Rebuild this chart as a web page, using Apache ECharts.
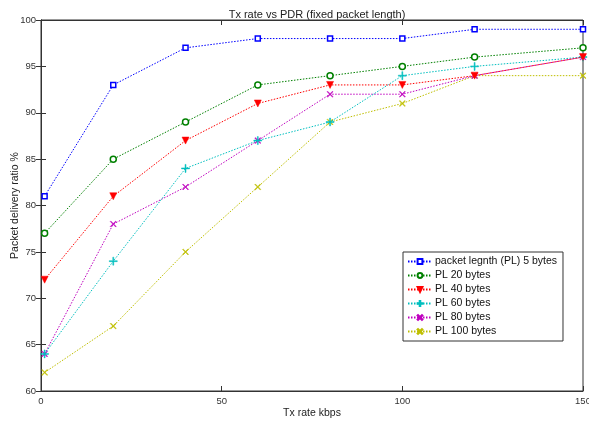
<!DOCTYPE html>
<html>
<head>
<meta charset="utf-8">
<script src="https://cdn.jsdelivr.net/npm/echarts@6/dist/echarts.min.js"></script>
<style>
  html, body { margin: 0; padding: 0; background: #fff; }
  #chart { width: 589px; height: 421px; }
</style>
</head>
<body>
<div id="chart"></div>
<script>
// Transmission rates (kbps) at which PDR was measured
const txRates = [1, 20, 40, 60, 80, 100, 120, 150];

// Packet delivery ratio (%) per packet length
const pl5   = [81, 93, 97, 98, 98, 98, 99, 99];
const pl20  = [77, 85, 89, 93, 94, 95, 96, 97];
const pl40  = [72, 81, 87, 91, 93, 93, 94, 96];
const pl60  = [64, 74, 84, 87, 89, 94, 95, 96];
const pl80  = [64, 78, 82, 87, 92, 92, 94, 96];
const pl100 = [62, 67, 75, 82, 89, 91, 94, 94];

const seriesNames = [
  'packet legnth (PL) 5 bytes',
  'PL 20 bytes',
  'PL 40 bytes',
  'PL 60 bytes',
  'PL 80 bytes',
  'PL 100 bytes'
];

const xTicks = [0, 50, 100, 150];
const yTicks = [60, 65, 70, 75, 80, 85, 90, 95, 100];

const PLUS = 'path://M-0.6,-5L0.6,-5L0.6,-0.6L5,-0.6L5,0.6L0.6,0.6L0.6,5L-0.6,5L-0.6,0.6L-5,0.6L-5,-0.6L-0.6,-0.6Z';
const CROSS = 'path://M-4.3,-3.5L-3.5,-4.3L0,-0.8L3.5,-4.3L4.3,-3.5L0.8,0L4.3,3.5L3.5,4.3L0,0.8L-3.5,4.3L-4.3,3.5L-0.8,0Z';

const styles = [
  { color: '#0000ff', symbol: 'rect', size: 5, hollow: true },
  { color: '#008000', symbol: 'circle', size: 6, hollow: true },
  { color: '#ff0000', symbol: 'triangle', size: 7, hollow: false, rotate: 180 },
  { color: '#00bfbf', symbol: PLUS, size: 8, hollow: false },
  { color: '#bf00bf', symbol: CROSS, size: 6, hollow: false },
  { color: '#bfbf00', symbol: CROSS, size: 6, hollow: false }
];

const values = [pl5, pl20, pl40, pl60, pl80, pl100];

const series = values.map((vals, i) => {
  const s = styles[i];
  return {
    name: seriesNames[i],
    type: 'line',
    data: vals.map((v, j) => [txRates[j], v]),
    symbol: s.symbol,
    symbolSize: s.size,
    symbolRotate: s.rotate || 0,
    showAllSymbol: true,
    lineStyle: { color: s.color, width: 1, type: [1.5, 1.5] },
    itemStyle: s.hollow
      ? { color: '#fff', borderColor: s.color, borderWidth: 1.5 }
      : { color: s.color, borderColor: s.color, borderWidth: 0.5 },
    emphasis: { disabled: true },
    animation: false,
    z: 10 - i
  };
});

const font = '"Liberation Sans", Arial, Helvetica, sans-serif';

const chart = echarts.init(document.getElementById('chart'));
chart.setOption({
  backgroundColor: '#fff',
  animation: false,
  textStyle: { fontFamily: font },
  title: {
    text: 'Tx rate vs PDR (fixed packet length)',
    left: 312,
    textAlign: 'center',
    top: 4,
    textStyle: { fontFamily: font, fontSize: 11, fontWeight: 'normal', color: '#222' }
  },
  grid: {
    left: 41, right: 6, top: 20, bottom: 30,
    containLabel: false,
    outerBoundsMode: 'none',
    show: true, borderColor: '#333', borderWidth: 1, backgroundColor: '#fff'
  },
  legend: {
    orient: 'vertical',
    left: 403,
    top: 252,
    padding: [4, 6, 4, 4],
    backgroundColor: '#fff',
    borderColor: '#333',
    borderWidth: 1,
    itemWidth: 24,
    itemHeight: 6,
    itemGap: 3,
    textStyle: { fontFamily: font, fontSize: 10.5, color: '#111', padding: [0, 0, 0, -2] },
    data: seriesNames
  },
  xAxis: [
    {
      type: 'value', min: 0, max: 150, interval: 50, position: 'bottom',
      name: 'Tx rate kbps', nameLocation: 'middle', nameGap: 17,
      nameMoveOverlap: false,
      nameTextStyle: { fontFamily: font, fontSize: 10.5, color: '#222' },
      axisLine: { show: true, lineStyle: { color: '#333' } },
      axisTick: { show: true, inside: true, length: 5, lineStyle: { color: '#333' } },
      axisLabel: {
        fontFamily: font, fontSize: 9.5, color: '#333', margin: 5,
        formatter: v => (xTicks.includes(v) ? String(v) : '')
      },
      splitLine: { show: false }
    },
    {
      type: 'value', min: 0, max: 150, interval: 50, position: 'top',
      axisLine: { show: true, lineStyle: { color: '#333' } },
      axisTick: { show: true, inside: true, length: 5, lineStyle: { color: '#333' } },
      axisLabel: { show: false },
      splitLine: { show: false }
    }
  ],
  yAxis: [
    {
      type: 'value', min: 60, max: 100, interval: 5, position: 'left',
      name: 'Packet delivery ratio %', nameLocation: 'middle', nameGap: 20,
      nameMoveOverlap: false,
      nameTextStyle: { fontFamily: font, fontSize: 10.5, color: '#222' },
      axisLine: { show: true, lineStyle: { color: '#333' } },
      axisTick: { show: true, inside: true, length: 5, lineStyle: { color: '#333' } },
      axisLabel: {
        fontFamily: font, fontSize: 9.5, color: '#333', margin: 5,
        formatter: v => (yTicks.includes(v) ? String(v) : '')
      },
      splitLine: { show: false }
    },
    {
      type: 'value', min: 60, max: 100, interval: 5, position: 'right',
      axisLine: { show: true, lineStyle: { color: '#333' } },
      axisTick: { show: true, inside: true, length: 5, lineStyle: { color: '#333' } },
      axisLabel: { show: false },
      splitLine: { show: false }
    }
  ],
  series: series
});
</script>
</body>
</html>
